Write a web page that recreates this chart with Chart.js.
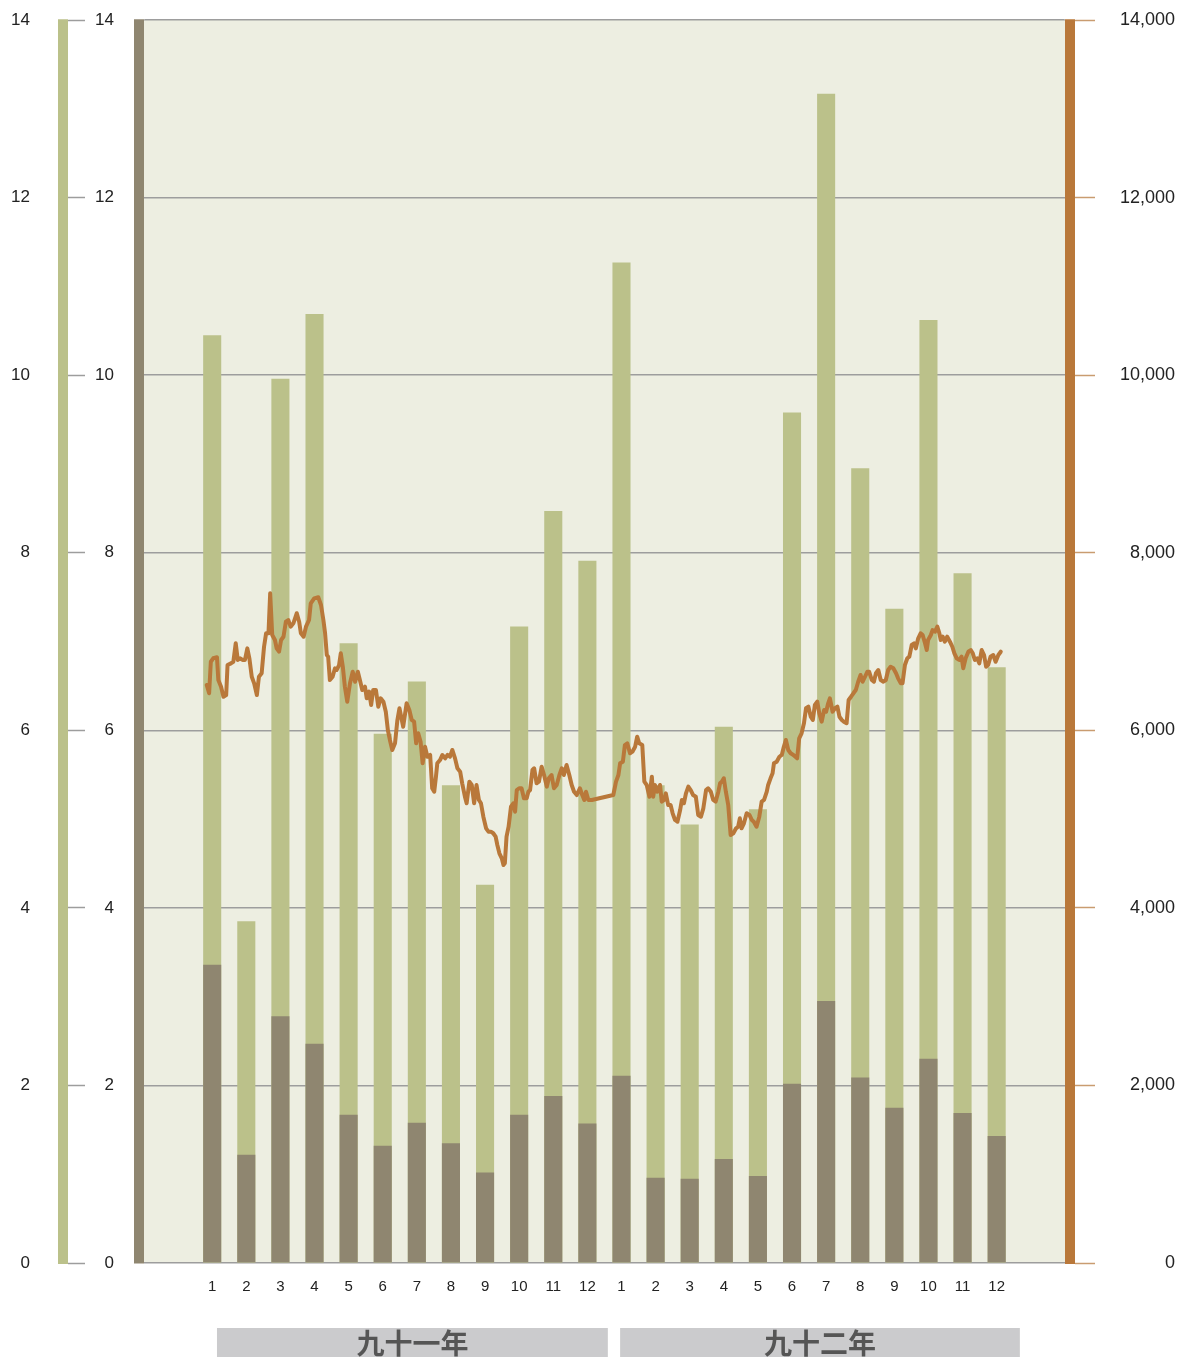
<!DOCTYPE html>
<html>
<head>
<meta charset="utf-8">
<script src="https://cdn.jsdelivr.net/npm/chart.js@4.4.1/dist/chart.umd.min.js"></script>
<style>
  html, body { margin: 0; padding: 0; background: #fff; }
  canvas { display: block; }
</style>
</head>
<body>
<canvas id="chart" width="1178" height="1357"></canvas>
<script>
// month ticks and year groups (ROC years)
const monthLabels = ['1', '2', '3', '4', '5', '6', '7', '8', '9', '10', '11', '12',
                     '1', '2', '3', '4', '5', '6', '7', '8', '9', '10', '11', '12'];
const yearGroups = ['九十一年', '九十二年'];

// bars: full height (light green, left axis) and lower part (taupe, second axis)
const totalVolume = [10.45, 3.85, 9.96, 10.69, 6.98, 5.96, 6.55, 5.38, 4.26, 7.17, 8.47, 7.91,
                     11.27, 5.38, 4.94, 6.04, 5.11, 9.58, 13.17, 8.95, 7.37, 10.62, 7.77, 6.71];
const partVolume = [3.36, 1.22, 2.78, 2.47, 1.67, 1.32, 1.58, 1.35, 1.02, 1.67, 1.88, 1.57,
                    2.11, 0.96, 0.95, 1.17, 0.98, 2.02, 2.95, 2.09, 1.75, 2.30, 1.69, 1.43];

// index line: position in months (0 = first month) and level (right axis)
const indexPos = [
  -0.16, -0.09, -0.04, 0.03, 0.14, 0.18, 0.26, 0.33, 0.41, 0.45,
  0.55, 0.62, 0.69, 0.75, 0.82, 0.89, 0.96, 1.03, 1.09, 1.16,
  1.23, 1.31, 1.37, 1.45, 1.52, 1.58, 1.65, 1.70, 1.76, 1.84,
  1.89, 1.96, 2.02, 2.09, 2.16, 2.23, 2.30, 2.38, 2.48, 2.55,
  2.60, 2.68, 2.75, 2.84, 2.89, 2.99, 3.11, 3.19, 3.26, 3.31,
  3.36, 3.40, 3.45, 3.53, 3.60, 3.65, 3.72, 3.77, 3.83, 3.89,
  3.96, 4.04, 4.12, 4.19, 4.27, 4.33, 4.40, 4.48, 4.53, 4.60,
  4.66, 4.72, 4.80, 4.87, 4.94, 5.02, 5.09, 5.15, 5.21, 5.28,
  5.36, 5.43, 5.49,
  5.60, 5.70, 5.78, 5.85, 5.92, 5.98, 6.04, 6.11, 6.17, 6.24,
  6.31, 6.39, 6.45, 6.51, 6.56, 6.60, 6.68, 6.75, 6.83, 6.90,
  6.97, 7.04, 7.12, 7.19, 7.27, 7.33, 7.41, 7.46, 7.54, 7.61,
  7.68, 7.75, 7.82, 7.88, 7.95, 8.03, 8.10, 8.17, 8.24, 8.31,
  8.36, 8.42, 8.49, 8.54, 8.58, 8.63, 8.69, 8.76, 8.83, 8.88,
  8.93, 9.00, 9.07, 9.14, 9.22, 9.27, 9.32, 9.39, 9.44, 9.51,
  9.58, 9.66, 9.73, 9.81, 9.87, 9.95, 10.02, 10.10, 10.18, 10.25,
  10.31, 10.39, 10.47, 10.54, 10.61, 10.69, 10.78, 10.85, 10.91, 10.96,
  11.03, 11.13,
  11.76, 11.84, 11.91, 11.96, 12.04, 12.10, 12.17, 12.25, 12.32, 12.40,
  12.46, 12.52, 12.61, 12.67, 12.74, 12.82, 12.89, 12.93, 12.98, 13.05,
  13.13, 13.18, 13.25, 13.30, 13.37, 13.44, 13.50, 13.57, 13.64, 13.72,
  13.77, 13.83, 13.89, 13.96, 14.03, 14.10, 14.18, 14.25, 14.33, 14.40,
  14.48, 14.54, 14.62, 14.69, 14.76, 14.84, 14.89, 14.94, 15.00, 15.06,
  15.13, 15.20, 15.28, 15.36, 15.42, 15.47, 15.52, 15.59, 15.67, 15.75,
  15.82, 15.88, 15.96, 16.04, 16.11, 16.18, 16.26, 16.30, 16.37, 16.43,
  16.47, 16.55, 16.63, 16.70, 16.76, 16.82, 16.89, 16.96, 17.04, 17.15,
  17.21, 17.28, 17.35, 17.41, 17.48, 17.55, 17.61, 17.67, 17.74, 17.80,
  17.87, 17.94, 18.00, 18.06, 18.11, 18.19, 18.26, 18.33, 18.39, 18.46,
  18.52, 18.60, 18.66, 18.73, 18.80, 18.87, 18.94, 19.01, 19.07, 19.14,
  19.21, 19.26, 19.34, 19.40, 19.46, 19.53, 19.60, 19.68, 19.75, 19.82,
  19.89, 19.97, 20.05, 20.11, 20.19, 20.24, 20.31, 20.38, 20.44, 20.51,
  20.58, 20.63, 20.70, 20.77, 20.83, 20.90, 20.95, 20.99, 21.07, 21.12,
  21.19, 21.26, 21.32, 21.36, 21.42, 21.48, 21.55, 21.63, 21.70, 21.76,
  21.83, 21.90, 21.97, 22.02, 22.09, 22.17, 22.24, 22.30, 22.36, 22.43,
  22.49, 22.56, 22.63, 22.69, 22.75, 22.82, 22.90, 22.97, 23.05, 23.12
];
const indexLevel = [
  6510, 6417, 6772, 6811, 6822, 6566, 6491, 6378, 6397, 6735,
  6754, 6772, 6980, 6792, 6811, 6792, 6792, 6923, 6811, 6603,
  6529, 6397, 6603, 6642, 6941, 7092, 7092, 7543, 7073, 7017,
  6923, 6885, 7017, 7054, 7223, 7242, 7167, 7205, 7318, 7223,
  7092, 7054, 7167, 7242, 7430, 7486, 7498, 7411, 7242, 7092,
  6848, 6829, 6566, 6603, 6698, 6679, 6735, 6867, 6716, 6491,
  6322, 6529, 6660, 6547, 6660, 6566, 6454, 6491, 6360, 6435,
  6285, 6454, 6454, 6266, 6360, 6322, 6209, 6003, 5891, 5778,
  5853, 6116, 6248,
  6040, 6304, 6228, 6116, 6097, 5853, 5966, 5871, 5628, 5815,
  5702, 5722, 5347, 5308, 5477, 5628, 5665, 5722, 5684, 5722,
  5702, 5778, 5684, 5572, 5534, 5403, 5252, 5178, 5421, 5384,
  5178, 5384, 5215, 5178, 5027, 4896, 4858, 4858, 4840, 4802,
  4708, 4614, 4558, 4483, 4502, 4802, 4914, 5139, 5178, 5083,
  5327, 5347, 5347, 5234, 5234, 5308, 5327, 5553, 5572, 5403,
  5421, 5590, 5496, 5365, 5459, 5496, 5347, 5384, 5496, 5572,
  5496, 5609, 5496, 5384, 5308, 5271, 5347, 5271, 5215, 5308,
  5215, 5215,
  5271, 5421, 5496, 5628, 5646, 5834, 5853, 5741, 5759, 5815,
  5928, 5853, 5834, 5421, 5384, 5252, 5477, 5252, 5384, 5308,
  5384, 5196, 5215, 5290, 5158, 5158, 5065, 4990, 4970, 5102,
  5215, 5178, 5290, 5365, 5327, 5271, 5252, 5046, 5027, 5121,
  5327, 5347, 5308, 5215, 5196, 5308, 5403, 5421, 5459, 5308,
  5158, 4821, 4840, 4896, 4914, 5009, 4896, 4952, 5065, 5046,
  4990, 4970, 4914, 5027, 5196, 5215, 5308, 5384, 5459, 5516,
  5628, 5646, 5702, 5722, 5815, 5891, 5778, 5741, 5722, 5684,
  5910, 5966, 6079, 6248, 6266, 6153, 6116, 6285, 6322, 6191,
  6097, 6228, 6209, 6304, 6360, 6209, 6248, 6266, 6153, 6116,
  6097, 6079, 6341, 6378, 6417, 6454, 6547, 6623, 6547, 6603,
  6660, 6660, 6566, 6547, 6642, 6679, 6566, 6547, 6566, 6679,
  6716, 6698, 6642, 6585, 6529, 6529, 6735, 6811, 6829, 6961,
  6980, 6923, 7036, 7092, 7073, 6980, 6904, 7017, 7073, 7129,
  7110, 7167, 7092, 7017, 7054, 6998, 7054, 6998, 6941, 6867,
  6811, 6792, 6829, 6698, 6811, 6885, 6904, 6867, 6792, 6811,
  6754, 6904, 6848, 6716, 6735, 6829, 6848, 6772, 6848, 6885
];

const GREEN = '#bbc18a';
const TAUPE = '#8f8670';
const ORANGE = '#b9783a';
const GRID = '#9d9d9d';
const PLOT_BG = '#edeee1';
const LABEL = '#222';
const axisFont = { family: "'Liberation Sans', Arial, sans-serif", size: 17 };

// fixed widths for the vertical axes; tick padding must not push the plot down
function fixAxis(width) {
    return axis => {
        axis.width = width;
        axis.paddingTop = 0;
        axis.paddingBottom = 0;
    };
}

// beige plot area behind everything
const plotBackground = {
    id: 'plotBackground',
    beforeDraw(chart) {
        const { ctx, chartArea: a } = chart;
        ctx.save();
        ctx.fillStyle = PLOT_BG;
        ctx.fillRect(a.left, a.top, a.right - a.left, a.bottom - a.top);
        ctx.restore();
    }
};

// thick axis bars should stop at the top gridline, not half a width above it
const trimAxisBars = {
    id: 'trimAxisBars',
    beforeDatasetsDraw(chart) {
        const { ctx, chartArea: a, scales } = chart;
        ctx.save();
        ctx.fillStyle = '#fff';
        [scales.y0.right, scales.y1.right, scales.yR.left].forEach(x => {
            ctx.fillRect(x - 6, 0, 12, a.top - 0.75);
        });
        ctx.restore();
    }
};

// grey year boxes under the month labels
const yearBands = {
    id: 'yearBands',
    afterDraw(chart) {
        const { ctx, chartArea: a, scales: { x } } = chart;
        const spans = [[0.14, 11.6], [11.96, 23.68]];
        ctx.save();
        spans.forEach((s, i) => {
            const l = x.getPixelForValue(s[0]);
            const r = x.getPixelForValue(s[1]);
            ctx.fillStyle = '#cbcbcd';
            ctx.fillRect(l, a.bottom + 65, r - l, 30);
            ctx.fillStyle = '#555';
            ctx.font = "bold 28px 'Noto Sans CJK TC', sans-serif";
            ctx.textAlign = 'center';
            ctx.textBaseline = 'middle';
            ctx.fillText(yearGroups[i], (l + r) / 2, a.bottom + 80);
        });
        ctx.restore();
    }
};

new Chart(document.getElementById('chart'), {
    type: 'bar',
    data: {
        datasets: [
            {
                type: 'line',
                label: '指數',
                data: indexPos.map((x, i) => ({ x: x, y: indexLevel[i] })),
                xAxisID: 'x',
                yAxisID: 'yR',
                borderColor: ORANGE,
                borderWidth: 4,
                borderJoinStyle: 'round',
                borderCapStyle: 'round',
                pointRadius: 0,
                tension: 0,
                order: 0
            },
            {
                label: '部分',
                data: partVolume.map((y, i) => ({ x: i, y: y })),
                xAxisID: 'x',
                yAxisID: 'y1',
                backgroundColor: TAUPE,
                grouped: false,
                barPercentage: 0.53,
                categoryPercentage: 1,
                order: 1
            },
            {
                label: '總量',
                data: totalVolume.map((y, i) => ({ x: i, y: y })),
                xAxisID: 'x',
                yAxisID: 'y0',
                backgroundColor: GREEN,
                grouped: false,
                barPercentage: 0.53,
                categoryPercentage: 1,
                order: 2
            }
        ]
    },
    options: {
        responsive: false,
        animation: false,
        devicePixelRatio: 1,
        layout: { padding: { top: 20, left: 0, right: 3, bottom: 0 } },
        plugins: { legend: { display: false }, tooltip: { enabled: false } },
        scales: {
            x: {
                type: 'linear',
                min: -2.146,
                max: 25.15,
                bounds: 'data',
                offset: false,
                grid: { display: false, drawTicks: false },
                border: { display: false },
                afterBuildTicks: axis => { axis.ticks = monthLabels.map((m, i) => ({ value: i })); },
                ticks: {
                    autoSkip: false,
                    maxRotation: 0,
                    padding: 15,
                    color: LABEL,
                    font: { family: "'Liberation Sans Narrow', 'Liberation Sans', Arial, sans-serif", size: 15 },
                    callback: (value, index) => monthLabels[index]
                },
                afterFit: axis => { axis.height = 94; }
            },
            y0: {
                position: 'left',
                weight: 3,
                min: 0,
                max: 14,
                ticks: { stepSize: 2, padding: 33, color: LABEL, font: axisFont },
                grid: { drawOnChartArea: false, drawTicks: false },
                border: { color: GREEN, width: 10 },
                afterFit: fixAxis(63)
            },
            yTk: {
                position: 'left',
                weight: 2,
                min: 0,
                max: 14,
                ticks: { stepSize: 2, display: false },
                grid: { drawOnChartArea: false, drawTicks: true, tickLength: 17, tickColor: GRID, tickWidth: 1.5 },
                border: { display: false },
                afterFit: fixAxis(22)
            },
            y1: {
                position: 'left',
                weight: 1,
                min: 0,
                max: 14,
                ticks: { stepSize: 2, padding: 25, color: LABEL, font: axisFont },
                grid: { color: GRID, lineWidth: 1.5, drawTicks: false },
                border: { color: TAUPE, width: 10 },
                afterFit: fixAxis(54)
            },
            yR: {
                position: 'right',
                min: 0,
                max: 14000,
                ticks: {
                    stepSize: 2000,
                    padding: 21,
                    crossAlign: 'far',
                    color: LABEL,
                    font: { family: "'Liberation Sans', Arial, sans-serif", size: 18 },
                    callback: v => v.toLocaleString('en-US')
                },
                grid: { drawOnChartArea: false, tickLength: 25, tickColor: '#c99c70', tickWidth: 1.5 },
                border: { color: ORANGE, width: 10 },
                afterFit: fixAxis(105)
            }
        }
    },
    plugins: [plotBackground, trimAxisBars, yearBands]
});
</script>
</body>
</html>
